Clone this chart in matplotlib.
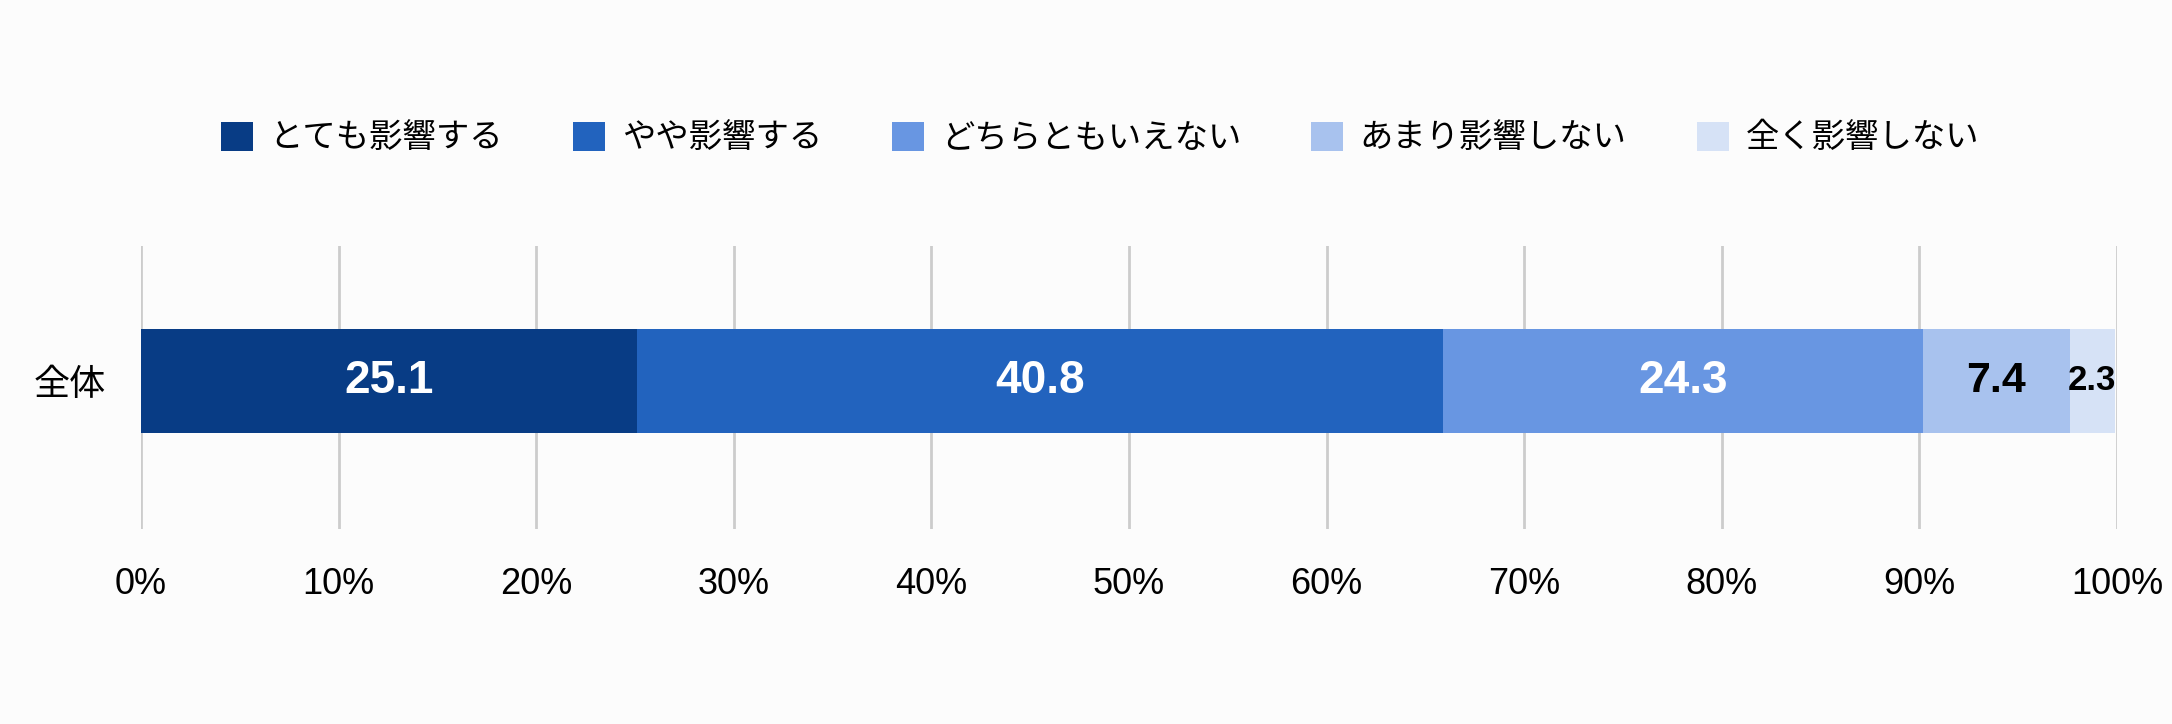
import matplotlib.pyplot as plt
from matplotlib.patches import Patch

# data
categories = ["全体"]
answers = ["とても影響する", "やや影響する", "どちらともいえない", "あまり影響しない", "全く影響しない"]
values = [25.1, 40.8, 24.3, 7.4, 2.3]
ticks = [0, 10, 20, 30, 40, 50, 60, 70, 80, 90, 100]
tick_labels = [f"{t}%" for t in ticks]

# styles
colors = ["#083c85", "#2263be", "#6896e2", "#a8c2ee", "#d6e2f6"]
label_colors = ["white", "white", "white", "black", "black"]
label_sizes = [33, 33, 33, 31, 25]
bg = "#fcfcfc"
jp_font = ["Noto Sans CJK JP", "DejaVu Sans"]
num_font = ["Liberation Sans", "DejaVu Sans"]

fig = plt.figure(figsize=(21.72, 7.24), dpi=100, facecolor=bg)
ax = fig.add_axes([141 / 2172, 1 - 529 / 724, 1976 / 2172, 283 / 724])
ax.set_facecolor(bg)

left = 0
for val, col, lc, ls in zip(values, colors, label_colors, label_sizes):
    ax.barh(0, val, left=left, height=0.735, color=col, zorder=2)
    ax.text(left + val / 2, 0, f"{val:.1f}", ha='center', va='center',
            color=lc, fontsize=ls, fontweight='bold', family=num_font, zorder=3)
    left += val

ax.set_xlim(0, 100)
ax.set_ylim(-1.046, 0.954)
ax.set_xticks(ticks)
ax.set_xticklabels(tick_labels, fontsize=26, family=num_font)
ax.set_yticks([0])
ax.set_yticklabels(categories, fontsize=26, family=jp_font)
ax.tick_params(axis='x', length=0, pad=27)
ax.tick_params(axis='y', length=0, pad=25)
ax.grid(axis='x', color='#cccccc', lw=2, zorder=1)
ax.set_axisbelow(True)
for s in ax.spines.values():
    s.set_visible(False)

handles = [Patch(facecolor=c, edgecolor='none') for c in colors]
fig.legend(handles, answers, ncol=5, loc='center',
           bbox_to_anchor=(1100 / 2172, 1 - 138 / 724), frameon=False,
           prop={'family': jp_font, 'size': 24},
           handlelength=0.96, handleheight=0.96, handletextpad=0.5,
           columnspacing=2.1)

fig.savefig('out.png', dpi=100, facecolor=bg)
